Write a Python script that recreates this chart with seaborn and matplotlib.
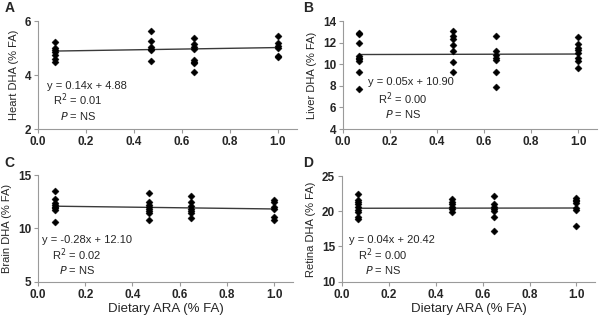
import numpy as np
import pandas as pd
import matplotlib
matplotlib.use("Agg")
import matplotlib.pyplot as plt
import seaborn as sns

# ---- data ----
ara_levels = [0.07, 0.47, 0.65, 1.0]

heart_dha = [
    [5.23, 5.0, 4.92, 4.84, 4.75, 4.6, 4.5],
    [5.65, 5.26, 5.05, 4.97, 4.92, 4.53],
    [5.38, 5.17, 5.05, 4.98, 4.57, 4.5, 4.45, 4.12],
    [5.44, 5.2, 5.08, 5.0, 4.7, 4.66],
]
liver_dha = [
    [12.9, 12.8, 12.0, 10.8, 10.6, 10.5, 10.3, 9.3, 7.7],
    [13.1, 12.6, 12.3, 11.8, 11.2, 10.2, 9.3],
    [12.6, 11.2, 10.9, 10.6, 10.4, 9.3, 7.85],
    [12.5, 11.9, 11.5, 11.3, 11.0, 10.6, 10.3, 9.7],
]
brain_dha = [
    [13.5, 12.8, 12.4, 12.2, 12.0, 11.9, 11.7, 10.6],
    [13.35, 12.5, 12.2, 12.0, 11.8, 11.6, 11.4, 10.8],
    [13.05, 12.5, 12.1, 11.8, 11.6, 11.4, 10.95],
    [12.7, 12.45, 12.0, 11.8, 11.1, 10.75],
]
retina_dha = [
    [22.5, 21.6, 21.3, 21.0, 20.6, 20.2, 19.9, 19.2, 18.9],
    [21.8, 21.3, 21.0, 20.6, 20.3, 19.9],
    [22.1, 21.0, 20.6, 20.3, 20.0, 19.2, 17.2],
    [21.9, 21.6, 21.4, 21.2, 20.4, 20.2, 17.9],
]

panel_letters = ["A", "B", "C", "D"]
tissues = ["Heart", "Liver", "Brain", "Retina"]
slopes = [0.14, 0.05, -0.28, 0.04]
intercepts = [4.88, 10.90, 12.10, 20.42]
r_squared = [0.01, 0.00, 0.02, 0.00]
y_ticks = [[2, 4, 6], [4, 6, 8, 10, 12, 14], [5, 10, 15], [10, 15, 20, 25]]
x_ticks = [0.0, 0.2, 0.4, 0.6, 0.8, 1.0]
x_label = "Dietary ARA (% FA)"

all_values = [heart_dha, liver_dha, brain_dha, retina_dha]

# ---- style ----
sns.set_theme(style="white")
plt.rcParams["font.family"] = ["Liberation Sans", "DejaVu Sans"]

fig = plt.figure(figsize=(6.0, 3.23), dpi=100)

axes_pos = [
    [0.0633, 0.6006, 0.432, 0.334],
    [0.5717, 0.6006, 0.423, 0.334],
    [0.0633, 0.128, 0.425, 0.330],
    [0.570, 0.128, 0.422, 0.327],
]
eq_pos = [(0.035, 0.40), (0.098, 0.435), (0.016, 0.39), (0.028, 0.39)]
r2_pos = [(0.154, 0.27), (0.236, 0.285), (0.153, 0.255), (0.162, 0.255)]
p_pos = [(0.154, 0.12), (0.236, 0.14), (0.153, 0.11), (0.162, 0.11)]

for i in range(4):
    ax = fig.add_axes(axes_pos[i])
    xs, ys = [], []
    for lvl, vals in zip(ara_levels, all_values[i]):
        xs += [lvl] * len(vals)
        ys += vals
    df = pd.DataFrame({"ara": xs, "dha": ys})
    # regression line from the reported equation
    line_x = np.array([min(ara_levels), max(ara_levels)])
    line_df = pd.DataFrame({"ara": line_x, "dha": slopes[i] * line_x + intercepts[i]})
    sns.lineplot(data=line_df, x="ara", y="dha", ax=ax, color="#3a3a3a", linewidth=1.0, zorder=2)
    sns.scatterplot(data=df, x="ara", y="dha", ax=ax, marker="D", s=13, color="black",
                    edgecolor="black", linewidth=0.3, zorder=3)

    ax.set_xlim(0, 1.08)
    ax.set_ylim(y_ticks[i][0], y_ticks[i][-1])
    ax.set_yticks(y_ticks[i])
    ax.set_xticks(x_ticks)
    ax.set_xticklabels([f"{t:.1f}" for t in x_ticks], fontsize=8.5, fontweight="bold")
    ax.set_yticklabels([str(t) for t in y_ticks[i]], fontsize=8.5, fontweight="bold")
    for s in ["top", "right"]:
        ax.spines[s].set_visible(False)
    for s in ["left", "bottom"]:
        ax.spines[s].set_color("#9a9a9a")
        ax.spines[s].set_linewidth(0.8)
    ax.tick_params(axis="both", which="major", direction="out", length=3, width=0.8,
                   color="#9a9a9a", pad=2, bottom=True, left=True)
    ax.set_ylabel(f"{tissues[i]} DHA (% FA)", fontsize=8, labelpad=4)
    if i >= 2:
        ax.set_xlabel(x_label, fontsize=9.5, labelpad=2)
    else:
        ax.set_xlabel("")

    sign = "-" if slopes[i] < 0 else ""
    ax.text(eq_pos[i][0], eq_pos[i][1],
            f"y = {sign}{abs(slopes[i]):.2f}x + {intercepts[i]:.2f}",
            transform=ax.transAxes, fontsize=8, ha="left", va="center")
    ax.text(r2_pos[i][0], r2_pos[i][1], f"R$^2$ = {r_squared[i]:.2f}",
            transform=ax.transAxes, fontsize=8, ha="center", va="center")
    ax.text(p_pos[i][0], p_pos[i][1], "$\\it{P}$ = NS",
            transform=ax.transAxes, fontsize=8, ha="center", va="center")

    lx = 0.008 if i % 2 == 0 else 0.505
    ly = 0.975 if i < 2 else 0.495
    fig.text(lx, ly, panel_letters[i], fontsize=10, fontweight="bold", ha="left", va="center")

fig.savefig("out.png", dpi=100)
